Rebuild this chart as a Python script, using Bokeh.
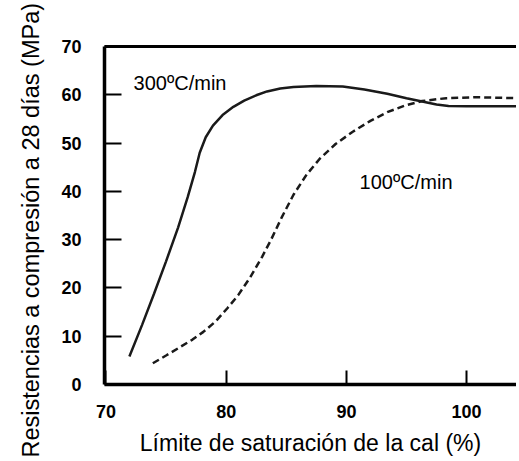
import math
from bokeh.plotting import figure
from bokeh.models import LinearAxis, FixedTicker, Range1d, ColumnDataSource, Title
from bokeh.core.properties import value
from bokeh.embed import file_html
from bokeh.resources import INLINE

# ---- data ----
x_ticks = [70, 80, 90, 100]
y_ticks = [0, 10, 20, 30, 40, 50, 60, 70]

rate300_x = [71.95, 73.0, 74.0, 75.0, 76.0, 76.8, 77.4, 77.8, 78.3, 78.9, 79.7,
             80.6, 81.5, 82.5, 83.4, 84.5, 85.6, 87.5, 89.7, 91.5, 93.4, 95.0, 96.3,
             97.5, 98.5, 100.0, 104.2]
rate300_y = [5.8, 12.3, 18.8, 25.5, 32.5, 38.8, 44.0, 48.0, 51.2, 53.6, 55.8,
             57.5, 58.8, 59.9, 60.7, 61.3, 61.6, 61.8, 61.7, 61.1, 60.2, 59.3, 58.6,
             58.0, 57.7, 57.6, 57.6]

rate100_x = [73.9, 75.0, 76.2, 77.2, 78.1, 79.1, 80.1, 81.0, 82.0, 83.0, 83.7, 84.6,
             85.6, 86.7, 87.8, 89.1, 90.5, 92.0, 93.4, 94.9, 96.3, 98.3, 100.8, 104.2]
rate100_y = [4.4, 6.0, 7.8, 9.3, 10.9, 13.0, 15.8, 18.5, 22.2, 26.5, 29.8, 34.5,
             39.3, 43.5, 46.8, 49.8, 52.3, 54.6, 56.4, 57.8, 58.7, 59.3, 59.5, 59.3]

label_text = ["300ºC/min", "100ºC/min"]
label_x = [72.3, 91.1]
label_y = [62.5, 42.0]

x_title = "Límite de saturación de la cal (%)"
y_title = "Resistencias a compresión a 28 días (MPa)"

FONT = "Liberation Sans"
INK = "#1a1a1a"

p = figure(width=516, height=459, output_backend="svg", toolbar_location=None,
           x_range=Range1d(69.88, 104.15), y_range=Range1d(0, 70),
           min_border_left=103, min_border_top=46, min_border_bottom=75, min_border_right=0)
p.outline_line_color = None
p.xgrid.visible = False
p.ygrid.visible = False
p.background_fill_color = "white"
p.border_fill_color = "white"

p.line(rate300_x, rate300_y, line_color=INK, line_width=2.5)
p.line(rate100_x, rate100_y, line_color=INK, line_width=2.5, line_dash="7 4")

src = ColumnDataSource(dict(x=label_x, y=label_y, t=label_text))
p.text(x="x", y="y", text="t", source=src, text_font=value(FONT),
       text_font_size="20px", text_color="black", text_baseline="alphabetic",
       text_align="left")

xa = p.xaxis[0]
xa.ticker = FixedTicker(ticks=x_ticks)
xa.axis_line_width = 3.5
xa.axis_line_color = "black"
xa.major_tick_in = 14
xa.major_tick_out = 0
xa.major_tick_line_width = 2
xa.minor_tick_line_color = None
xa.major_label_standoff = 20
xa.major_label_text_font = FONT
xa.major_label_text_font_style = "bold"
xa.major_label_text_font_size = "18px"
xa.major_label_text_color = "black"
xa.axis_label = x_title
xa.axis_label_text_font = FONT
xa.axis_label_text_font_style = "normal"
xa.axis_label_text_font_size = "23px"
xa.axis_label_text_color = "black"
xa.axis_label_standoff = 9

ya = p.yaxis[0]
ya.ticker = FixedTicker(ticks=y_ticks)
ya.axis_line_width = 3.5
ya.axis_line_color = "black"
ya.major_tick_in = 17
ya.major_tick_out = 0
ya.major_tick_line_width = 2
ya.minor_tick_line_color = None
ya.major_label_standoff = 23
ya.major_label_text_font = FONT
ya.major_label_text_font_style = "bold"
ya.major_label_text_font_size = "18px"
ya.major_label_text_color = "black"

ytitle = Title(text=y_title, align="left", offset=-73, standoff=30,
               text_font=FONT, text_font_size="23.5px", text_font_style="normal",
               text_color="black")
p.add_layout(ytitle, "left")

top = LinearAxis(ticker=FixedTicker(ticks=[]), axis_line_width=3, axis_line_color="black",
                 major_tick_line_color=None, minor_tick_line_color=None,
                 major_label_text_font_size="0px")
p.add_layout(top, "above")

open("out.html", "w").write(file_html(p, INLINE))
